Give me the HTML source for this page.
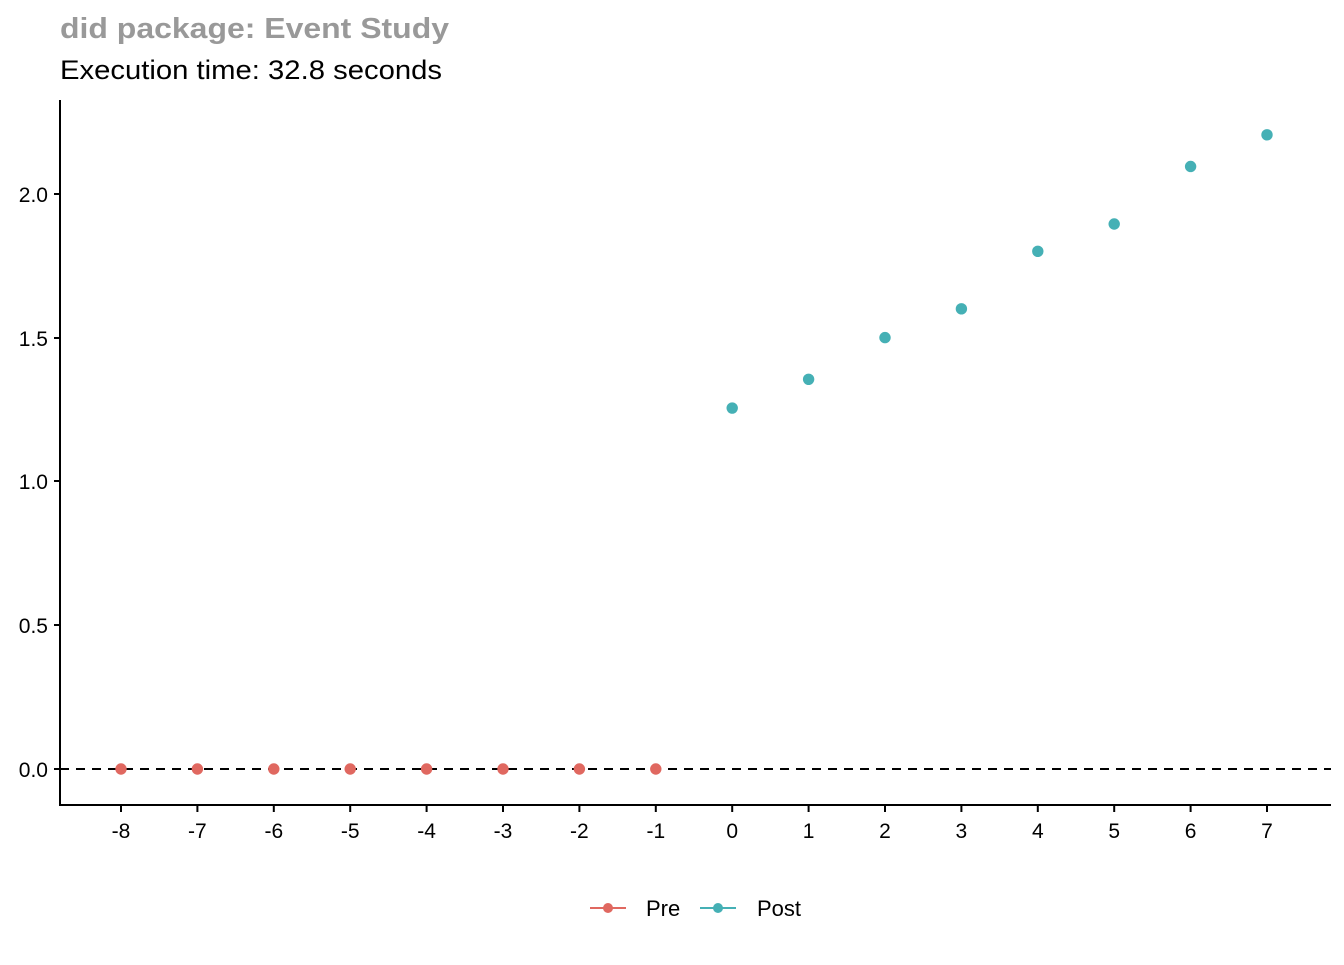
<!DOCTYPE html><html><head><style>body{margin:0;background:#fff}</style></head><body>
<svg width="1344" height="960" xmlns="http://www.w3.org/2000/svg" font-family="Liberation Sans, Arial, sans-serif">
<text x="60" y="38" font-size="29" font-weight="bold" fill="#999" textLength="389" lengthAdjust="spacingAndGlyphs">did package: Event Study</text>
<text x="60" y="79" font-size="27" fill="#000" textLength="382" lengthAdjust="spacingAndGlyphs">Execution time: 32.8 seconds</text>
<line x1="60" y1="100" x2="60" y2="806" stroke="#000" stroke-width="2"/>
<line x1="59" y1="805" x2="1331" y2="805" stroke="#000" stroke-width="2"/>
<g stroke="#000" stroke-width="2">
<line x1="54" y1="769" x2="60" y2="769"/><line x1="54" y1="625" x2="60" y2="625"/><line x1="54" y1="481" x2="60" y2="481"/><line x1="54" y1="338" x2="60" y2="338"/><line x1="54" y1="194" x2="60" y2="194"/>
</g>
<g font-size="21" text-anchor="end" fill="#000">
<text x="48" y="777">0.0</text><text x="48" y="633">0.5</text><text x="48" y="489">1.0</text><text x="48" y="346">1.5</text><text x="48" y="202">2.0</text>
</g>
<line x1="60" y1="769" x2="1331" y2="769" stroke="#000" stroke-width="2" stroke-dasharray="9,7"/>
<g id="xt" font-size="21" text-anchor="middle" fill="#000"></g>
<g id="pts"></g>
<g font-size="22" fill="#000">
<line x1="590" y1="908" x2="626" y2="908" stroke="#E06860" stroke-width="2"/><circle cx="608" cy="908" r="5" fill="#E06860"/>
<text x="646" y="916">Pre</text>
<line x1="700" y1="908" x2="736" y2="908" stroke="#45B0B5" stroke-width="2"/><circle cx="718" cy="908" r="5" fill="#45B0B5"/>
<text x="757" y="916">Post</text>
</g>
<script>
var xt=document.getElementById('xt'),pts=document.getElementById('pts'),ns='http://www.w3.org/2000/svg';
var post=[1.255,1.355,1.5,1.6,1.8,1.895,2.095,2.205];
for(var k=-8;k<=7;k++){var x=121+(k+8)*76.4;
var l=document.createElementNS(ns,'line');l.setAttribute('x1',x);l.setAttribute('x2',x);l.setAttribute('y1',805);l.setAttribute('y2',812);l.setAttribute('stroke','#000');l.setAttribute('stroke-width','2');xt.appendChild(l);
var t=document.createElementNS(ns,'text');t.setAttribute('x',x);t.setAttribute('y',838);t.textContent=k;xt.appendChild(t);
var c=document.createElementNS(ns,'circle');c.setAttribute('cx',x);c.setAttribute('r',5.7);
if(k<0){c.setAttribute('cy',769);c.setAttribute('fill','#E06860');}else{c.setAttribute('cy',769-post[k]*287.6);c.setAttribute('fill','#45B0B5');}
pts.appendChild(c);}
</script>
</svg></body></html>
